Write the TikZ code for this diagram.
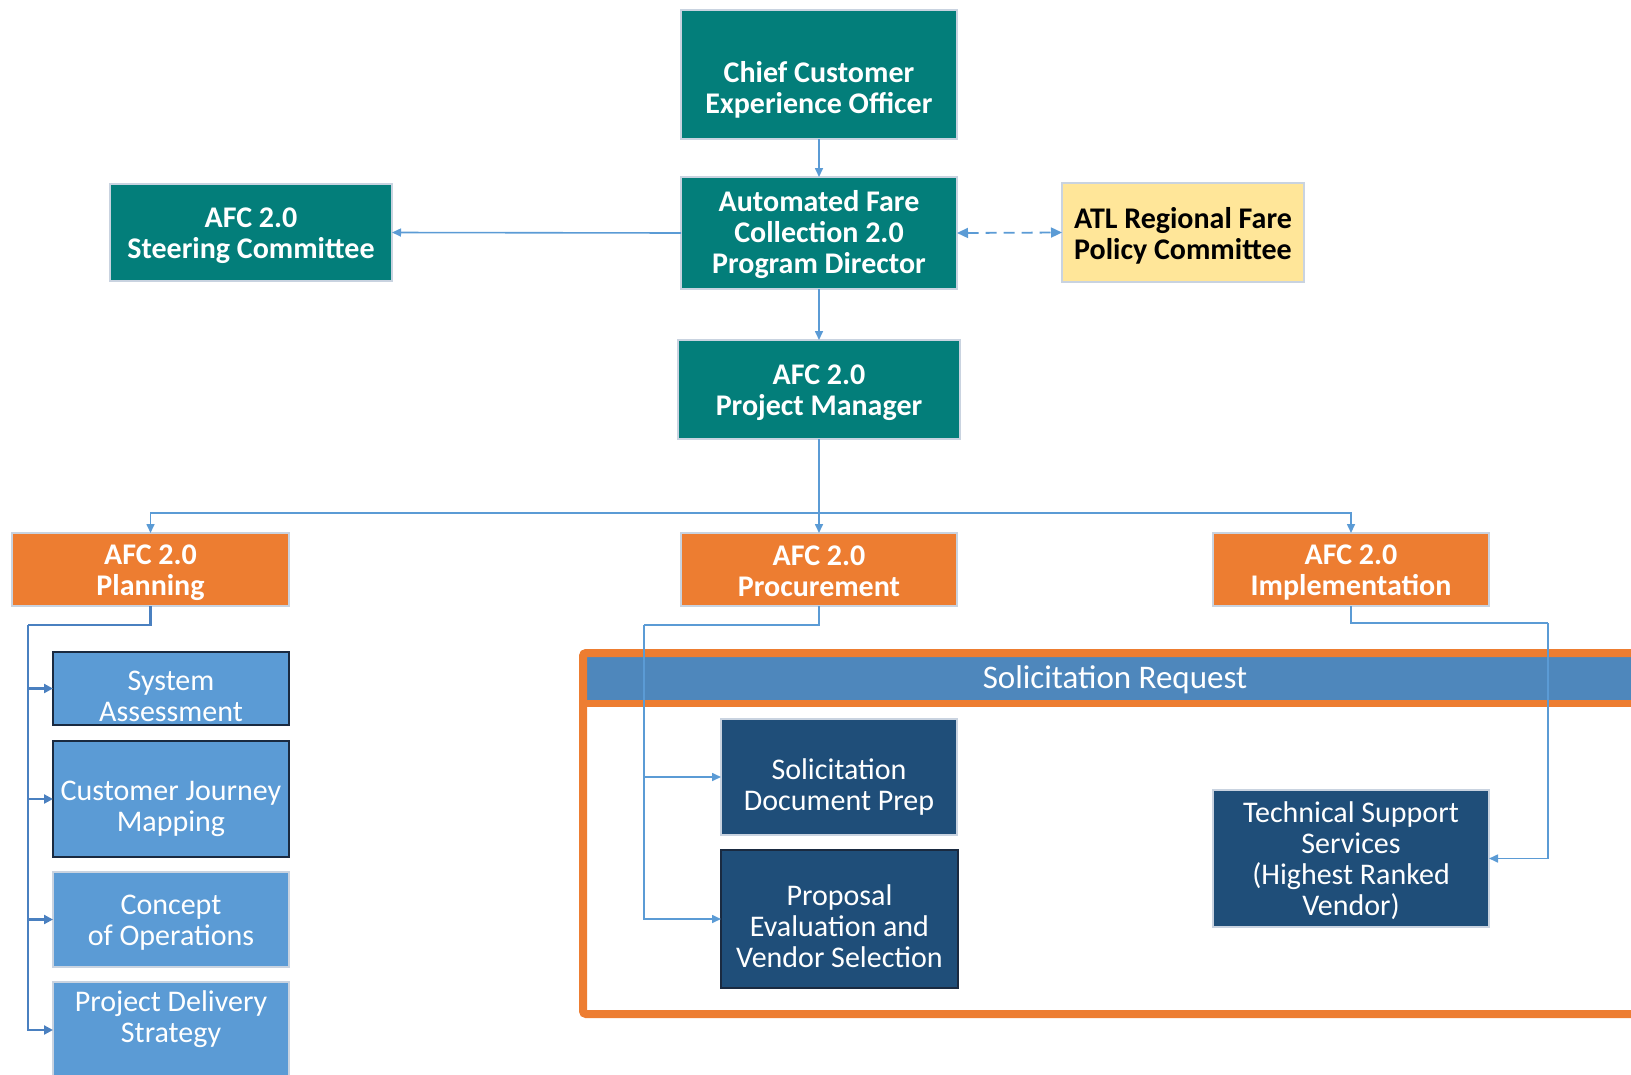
\documentclass[tikz,border=0pt]{standalone}
\usepackage{fontspec}
\setmainfont{Carlito}
\usetikzlibrary{arrows.meta,calc}
\definecolor{cteal}{HTML}{037E7A}
\definecolor{corange}{HTML}{ED7D31}
\definecolor{clight}{HTML}{5B9BD5}
\definecolor{cdark}{HTML}{1F4E79}
\definecolor{cband}{HTML}{4E87BC}
\definecolor{cyel}{HTML}{FFE699}
\definecolor{cline}{HTML}{5B9BD5}
\definecolor{cline2}{HTML}{4A80C0}
\definecolor{cedge}{HTML}{C9D3E0}
\definecolor{cdarkedge}{HTML}{1A2A40}
\begin{document}
\begin{tikzpicture}[x=1pt,y=-1pt,
  box/.style={rectangle, inner sep=0pt, outer sep=0pt, line width=1.5pt},
  tealbox/.style={box, fill=cteal, draw=cedge},
  orbox/.style={box, fill=corange, draw=cedge},
  yelbox/.style={box, fill=cyel, draw=cedge},
  lbox/.style={box, fill=clight, draw=cedge},
  lboxd/.style={box, fill=clight, draw=cdarkedge},
  dbox/.style={box, fill=cdark, draw=cedge},
  dboxd/.style={box, fill=cdark, draw=cdarkedge},
  tb/.style={inner sep=0pt, align=center, text=white, font=\fontsize{30}{31}\selectfont\bfseries},
  tbk/.style={tb, text=black},
  tr/.style={inner sep=0pt, align=center, text=white, font=\fontsize{30}{31}\selectfont},
  th/.style={tr, font=\fontsize{33}{34}\selectfont},
  conn/.style={draw=cline, line width=1.6pt},
  arr/.style={conn, -{Triangle[length=9pt,width=8pt]}},
  connp/.style={draw=cline2, line width=2.6pt},
  arrp/.style={connp, -{Triangle[length=9pt,width=9pt]}}
]
\useasboundingbox (0,0) rectangle (1631,1074);
\clip (0,0) rectangle (1631,1074);

% top boxes
\node[tealbox, minimum width=276pt, minimum height=129pt] (cceo) at (819,74.5) {};
\node[tb] (tcceo) at ($(cceo.center)+(0,15)$) {Chief Customer\\Experience Officer};
\node[tealbox, minimum width=276pt, minimum height=112pt] (pd) at (819,233) {};
\node[tb] (tpd) at ($(pd.center)+(0,2)$) {Automated Fare\\Collection 2.0\\Program Director};
\node[tealbox, minimum width=282pt, minimum height=97pt] (steer) at (251,232.5) {};
\node[tb] (tsteer) at ($(steer.center)+(0,3)$) {AFC 2.0\\Steering Committee};
\node[yelbox, minimum width=242pt, minimum height=99pt] (atl) at (1183,232.5) {};
\node[tbk] (tatl) at ($(atl.center)+(0,3)$) {ATL Regional Fare\\Policy Committee};
\node[tealbox, minimum width=282pt, minimum height=99pt] (pm) at (819,389.5) {};
\node[tb] (tpm) at ($(pm.center)+(0,3)$) {AFC 2.0\\Project Manager};

% second level
\node[orbox, minimum width=277pt, minimum height=73pt] (plan) at (150.5,569.5) {};
\node[tb] (tplan) at ($(plan.center)+(0,3)$) {AFC 2.0\\Planning};
\node[orbox, minimum width=276pt, minimum height=73pt] (proc) at (819,569.5) {};
\node[tb] (tproc) at ($(proc.center)+(0,1.5)$) {AFC 2.0\\Procurement};
\node[orbox, minimum width=276pt, minimum height=73pt] (impl) at (1351,569.5) {};
\node[tb] (timpl) at ($(impl.center)+(0,3)$) {AFC 2.0\\Implementation};

% planning children
\node[lboxd, minimum width=236pt, minimum height=73pt] (sys) at (171,688.5) {};
\node[tr] (tsys) at ($(sys.center)+(0,8)$) {System\\Assessment};
\node[lboxd, minimum width=236pt, minimum height=116pt] (cjm) at (171,799) {};
\node[tr] (tcjm) at ($(cjm.center)+(0,10)$) {Customer Journey\\Mapping};
\node[lbox, minimum width=236pt, minimum height=95pt] (conops) at (171,919.5) {};
\node[tr] (tconops) at ($(conops.center)+(0,3)$) {Concept\\of Operations};
\node[lbox, minimum width=236pt, minimum height=96pt] (pds) at (171,1030) {};
\node[tr] (tpds) at (171,1019) {Project Delivery\\Strategy};

% solicitation frame
\fill[cband] (586,657) rectangle (1640,700);
\draw[corange, line width=8pt, rounded corners=3pt] (1660,653) -- (583,653) -- (583,1014) -- (1660,1014);
\draw[corange, line width=7pt] (583,703.5) -- (1660,703.5);
\node[th] (thead) at (1115,680) {Solicitation Request};

\node[dbox, minimum width=236pt, minimum height=116pt] (sdp) at (839,777) {};
\node[tr] (tsdp) at ($(sdp.center)+(0,10)$) {Solicitation\\Document Prep};
\node[dboxd, minimum width=237pt, minimum height=138pt] (pevs) at (839.5,919) {};
\node[tr] (tpevs) at ($(pevs.center)+(0,7)$) {Proposal\\Evaluation and\\Vendor Selection};
\node[dbox, minimum width=276pt, minimum height=137pt] (tss) at (1351,858.5) {};
\node[tr] (ttss) at ($(tss.center)+(0,2)$) {Technical Support\\Services\\(Highest Ranked\\Vendor)};

% connectors top
\draw[arr] (cceo.south) -- (pd.north);
\draw[arr] (pd.west) -- (steer.east);
\draw[conn, line width=1.8pt, dash pattern=on 11pt off 7pt, {Triangle[length=11pt,width=10pt]}-{Triangle[length=11pt,width=10pt]}] (pd.east) -- (atl.west);
\draw[arr] (pd.south) -- (pm.north);
\coordinate (bus) at (819,513);
\draw[arr] (pm.south) -- (proc.north);
\draw[arr] (bus) -| (plan.north);
\draw[arr] (bus) -| (impl.north);

% planning connectors
\coordinate (pl) at (28,625);
\draw[connp] (plan.south) |- (pl);
\draw[arrp] (pl) |- (pds.west);
\draw[arrp] (pl |- sys.west) -- (sys.west);
\draw[arrp] (pl |- cjm.west) -- (cjm.west);
\draw[arrp] (pl |- conops.west) -- (conops.west);

% procurement connectors
\coordinate (pr) at (644,625);
\draw[conn] (proc.south) |- (pr);
\draw[arr] (pr) |- (pevs.west);
\draw[arr] (pr |- sdp.west) -- (sdp.west);

% implementation connector
\coordinate (im) at (1548,623);
\draw[conn] (impl.south) |- (im);
\draw[arr] (im) |- (tss.east);
\end{tikzpicture}
\end{document}
